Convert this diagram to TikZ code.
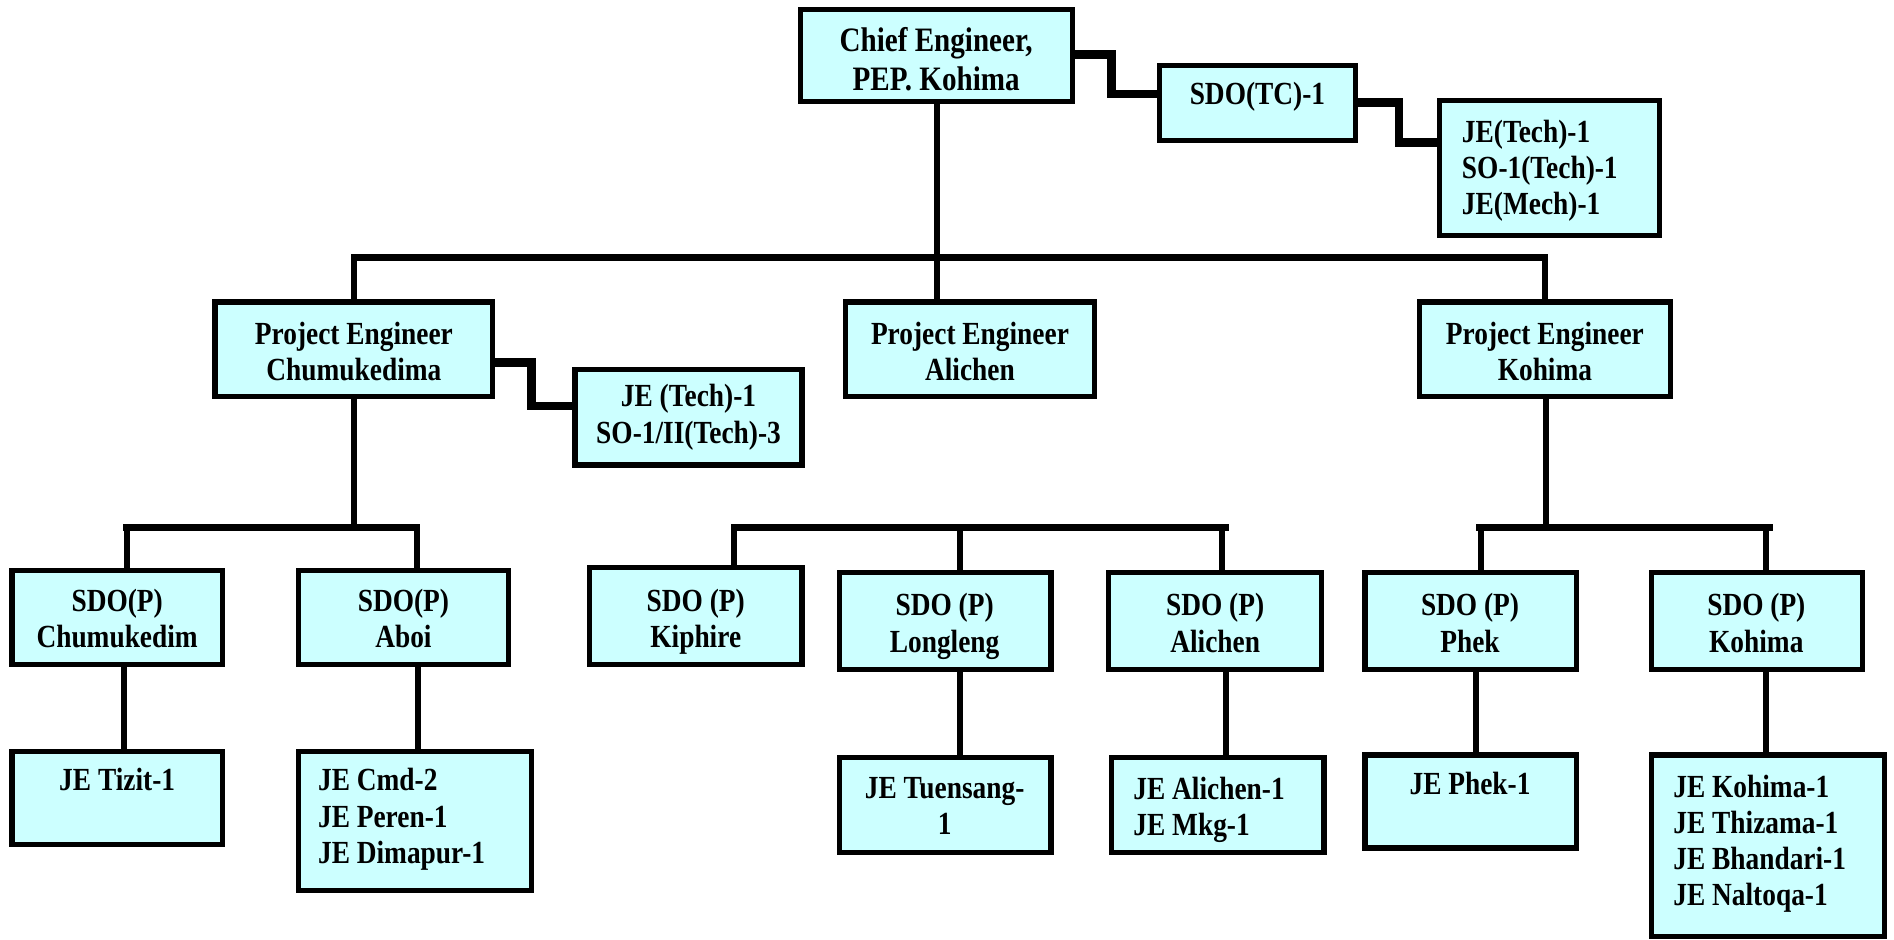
\documentclass[tikz,border=0pt]{standalone}
\usepackage{fontspec}
\setmainfont{Liberation Serif}[FakeStretch=0.85]
\usetikzlibrary{fit}
\definecolor{boxfill}{HTML}{CCFFFF}
\tikzset{
  box/.style={draw=black, fill=boxfill, line width=2.6pt, inner sep=0pt},
  conn/.style={line width=3pt},
  bus/.style={line width=3.4pt, line cap=rect},
  sideconn/.style={line width=4.2pt},
  txt/.style={inner sep=0pt, align=center, font=\fontsize{16pt}{18pt}\selectfont\bfseries},
  ltxt/.style={txt, align=left},
}
\begin{document}
\begin{tikzpicture}[x=0.6pt,y=-0.6pt]
\useasboundingbox (0,0) rectangle (1568,778);
% boxes
\node[box, fit={(663,8) (888,84)}] (chief) {};
\node[box, fit={(960,54) (1122,116)}] (sdotc) {};
\node[box, fit={(1192,83) (1374,195)}] (jetech) {};
\node[box, fit={(178,250) (408,328)}] (pe1) {};
\node[box, fit={(700,250) (906,328)}] (pe2) {};
\node[box, fit={(1175,250) (1383,328)}] (pe3) {};
\node[box, fit={(476,306) (664,385)}] (jet1) {};
\node[box, fit={(10,472) (184,550)}] (sdo1) {};
\node[box, fit={(247,472) (421,550)}] (sdo2) {};
\node[box, fit={(488,470) (664,550)}] (sdo3) {};
\node[box, fit={(695,474) (870,554)}] (sdo4) {};
\node[box, fit={(918,474) (1094,554)}] (sdo5) {};
\node[box, fit={(1130,474) (1305,554)}] (sdo6) {};
\node[box, fit={(1367,474) (1542,554)}] (sdo7) {};
\node[box, fit={(10,622) (184,699)}] (je1) {};
\node[box, fit={(247,622) (440,737)}] (je2) {};
\node[box, fit={(695,627) (870,706)}] (je4) {};
\node[box, fit={(920,627) (1096,706)}] (je5) {};
\node[box, fit={(1130,625) (1305,702)}] (je6) {};
\node[box, fit={(1367,625) (1560,775)}] (je7) {};
% bus coordinates
\coordinate (busA) at (0,213);
\coordinate (busB) at (0,437);
% top level
\draw[conn] (chief.south) -- (chief.south |- busA);
\draw[bus] (pe1.north |- busA) -- (pe3.north |- busA);
\draw[conn] (pe1.north |- busA) -- (pe1.north);
\draw[conn] (chief.south |- busA) -- (chief.south |- pe2.north);
\draw[conn] (pe3.north |- busA) -- (pe3.north);
% side connectors
\draw[sideconn] (chief.east |- 0,45) -- (920,45) -- (920,78) -- (sdotc.west |- 0,78);
\draw[sideconn] (sdotc.east |- 0,85) -- (1158,85) -- (1158,118) -- (jetech.west |- 0,118);
\draw[sideconn] (pe1.east |- 0,300) -- (440,300) -- (440,336) -- (jet1.west |- 0,336);
% left group
\draw[conn] (pe1.south) -- (pe1.south |- busB);
\draw[bus] (105,437) -- (345,437);
\draw[conn] (105,437) -- (105,0 |- sdo1.north);
\draw[conn] (345,437) -- (345,0 |- sdo2.north);
\draw[conn] (103,0 |- sdo1.south) -- (103,0 |- je1.north);
\draw[conn] (346,0 |- sdo2.south) -- (346,0 |- je2.north);
% middle group
\draw[bus] (608,437) -- (1015,437);
\draw[conn] (608,437) -- (608,0 |- sdo3.north);
\draw[conn] (795,437) -- (795,0 |- sdo4.north);
\draw[conn] (1012,437) -- (1012,0 |- sdo5.north);
\draw[conn] (795,0 |- sdo4.south) -- (795,0 |- je4.north);
\draw[conn] (1015,0 |- sdo5.south) -- (1015,0 |- je5.north);
% right group
\draw[conn] (1280,0 |- pe3.south) -- (1280,437);
\draw[bus] (1225,437) -- (1465,437);
\draw[conn] (1226,437) -- (1226,0 |- sdo6.north);
\draw[conn] (1462,437) -- (1462,0 |- sdo7.north);
\draw[conn] (1222,0 |- sdo6.south) -- (1222,0 |- je6.north);
\draw[conn] (1462,0 |- sdo7.south) -- (1462,0 |- je7.north);
% texts
\node[txt, font=\fontsize{17pt}{19.8pt}\selectfont\bfseries, anchor=north] (chief-t) at (775,22) {Chief Engineer,\\PEP. Kohima};
\node[txt, anchor=north] (sdotc-t) at (1041,68) {SDO(TC)-1};
\node[ltxt, anchor=north west] (jetech-t) at (1210,99) {JE(Tech)-1\\SO-1(Tech)-1\\JE(Mech)-1};
\node[txt, anchor=north] (pe1-t) at (293,266) {Project Engineer\\Chumukedima};
\node[txt, anchor=north] (pe2-t) at (803,266) {Project Engineer\\Alichen};
\node[txt, anchor=north] (pe3-t) at (1279,266) {Project Engineer\\Kohima};
\node[txt, anchor=north] (jet1-t) at (570,318) {JE (Tech)-1\\SO-1/II(Tech)-3};
\node[txt, anchor=north] (sdo1-t) at (97,487) {SDO(P)\\Chumukedim};
\node[txt, anchor=north] (sdo2-t) at (334,487) {SDO(P)\\Aboi};
\node[txt, anchor=north] (sdo3-t) at (576,487) {SDO (P)\\Kiphire};
\node[txt, anchor=north] (sdo4-t) at (782,491) {SDO (P)\\Longleng};
\node[txt, anchor=north] (sdo5-t) at (1006,491) {SDO (P)\\Alichen};
\node[txt, anchor=north] (sdo6-t) at (1217,491) {SDO (P)\\Phek};
\node[txt, anchor=north] (sdo7-t) at (1454,491) {SDO (P)\\Kohima};
\node[txt, anchor=north] (je1-t) at (97,636) {JE Tizit-1};
\node[ltxt, anchor=north west] (je2-t) at (263,636) {JE Cmd-2\\JE Peren-1\\JE Dimapur-1};
\node[txt, anchor=north] (je4-t) at (782,643) {JE Tuensang-\\1};
\node[ltxt, anchor=north west] (je5-t) at (938,643) {JE Alichen-1\\JE Mkg-1};
\node[txt, anchor=north] (je6-t) at (1217,639) {JE Phek-1};
\node[ltxt, anchor=north west] (je7-t) at (1385,641) {JE Kohima-1\\JE Thizama-1\\JE Bhandari-1\\JE Naltoqa-1};
\end{tikzpicture}
\end{document}
